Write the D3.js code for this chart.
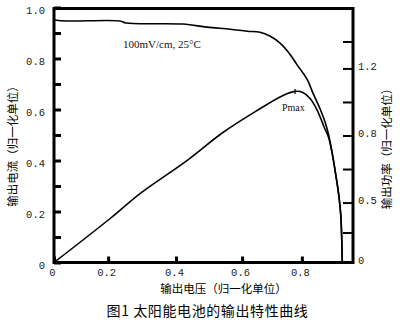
<!DOCTYPE html>
<html>
<head>
<meta charset="utf-8">
<script src="https://cdn.jsdelivr.net/npm/d3@7"></script>
<style>
  html, body { margin: 0; padding: 0; background: #fff; }
  svg { display: block; }
</style>
</head>
<body>
<svg id="chart" width="403" height="327"></svg>
<script>
// Output voltage tick values (normalized)
const voltageTicks = [0, 0.2, 0.4, 0.6, 0.8];
// Output current ticks (left axis) and which of them carry a label
const currentTicks = [0, 0.1, 0.2, 0.3, 0.4, 0.5, 0.6, 0.7, 0.8, 0.9, 1.0];
const currentLabels = [0, 0.2, 0.4, 0.6, 0.8, 1.0];
// Output power ticks (right axis) and the labelled subset
const powerTicks = [0, 0.25, 0.5, 0.65, 0.8, 1.0, 1.2, 1.4];
const powerLabels = [0, 0.5, 0.8, 1.2];

// I–V curve: voltage / current pairs
const ivVoltage = [0, 0.048, 0.235, 0.253, 0.421, 0.494, 0.564, 0.617, 0.66, 0.693, 0.727, 0.76, 0.783, 0.816, 0.834, 0.856, 0.871, 0.881, 0.893, 0.903, 0.912, 0.918, 0.921, 0.9225];
const ivCurrent = [0.951, 0.947, 0.947, 0.939, 0.935, 0.923, 0.915, 0.907, 0.903, 0.888, 0.86, 0.817, 0.777, 0.718, 0.663, 0.6, 0.548, 0.501, 0.422, 0.343, 0.264, 0.185, 0.087, 0];

// P–V curve: voltage / power pairs
const pvVoltage = [0, 0.206, 0.294, 0.433, 0.542, 0.65, 0.737, 0.777, 0.803, 0.825, 0.847, 0.856, 0.868, 0.881, 0.893, 0.903, 0.912, 0.918, 0.921, 0.9225];
const pvPower = [0, 0.367, 0.54, 0.688, 0.818, 0.949, 1.039, 1.063, 1.057, 1.021, 0.949, 0.907, 0.848, 0.791, 0.71, 0.621, 0.531, 0.392, 0.183, 0];

const condition = "100mV/cm, 25°C";
const peakLabel = "Pmax";
const xTitle = "输出电压（归一化单位）";
const yLeftTitle = "输出电流（归一化单位）";
const yRightTitle = "输出功率（归一化单位）";
const caption = "图1 太阳能电池的输出特性曲线";

const svg = d3.select("#chart");
const W = 403, H = 327;
const plot = { left: 54, right: 353, top: 8.5, bottom: 262.5 };

svg.append("rect").attr("width", W).attr("height", H).attr("fill", "#fff");

// The hand-drawn voltage axis is not evenly spaced, so each labelled
// division gets its own stretch of the plot width.
const xFrac = [0, 0.181, 0.408, 0.629, 0.829, 1];
const x = d3.scaleLinear()
  .domain([0, 0.2, 0.4, 0.6, 0.8, 0.955])
  .range(xFrac.map(f => plot.left + f * (plot.right - plot.left)));

const yLeft = d3.scaleLinear().domain([0, 1]).range([plot.bottom, 7.5]);

// Right power axis, also unevenly divided
const yFrac = [0, 0.236, 0.5, 0.764, 0.87];
const yRight = d3.scaleLinear()
  .domain([0, 0.5, 0.8, 1.2, 1.4])
  .range(yFrac.map(f => plot.bottom - f * (plot.bottom - plot.top)));

const monoFont = "'Liberation Mono', 'DejaVu Sans Mono', monospace";
const cjkFont = "'Noto Sans CJK SC', 'Noto Sans', sans-serif";
const serifFont = "'Liberation Serif', 'DejaVu Serif', serif";

function styleAxis(g, width) {
  g.select(".domain").remove();
  g.selectAll(".tick line").attr("stroke", "#000").attr("stroke-width", width);
  g.selectAll(".tick text")
    .attr("fill", "#222")
    .attr("font-family", monoFont)
    .attr("font-size", 10.5);
}

// Left axis: current
svg.append("g")
  .attr("transform", `translate(${plot.left},0)`)
  .call(d3.axisLeft(yLeft)
    .tickValues(currentTicks)
    .tickSize(-7)
    .tickPadding(9)
    .tickFormat(d => currentLabels.some(v => Math.abs(v - d) < 1e-9) ? (d === 0 ? "0" : d3.format(".1f")(d)) : ""))
  .call(g => styleAxis(g, 3))
  .call(g => g.selectAll(".tick text").attr("dy", "0.55em"));

// Bottom axis: voltage
svg.append("g")
  .attr("transform", `translate(0,${plot.bottom})`)
  .call(d3.axisBottom(x)
    .tickValues(voltageTicks)
    .tickSize(-6)
    .tickPadding(6)
    .tickFormat(d => d === 0 ? "0" : d3.format(".1f")(d)))
  .call(g => styleAxis(g, 3))
  .call(g => g.selectAll(".tick text").attr("dx", "-2"));

// Right axis: power
svg.append("g")
  .attr("transform", `translate(${plot.right},0)`)
  .call(d3.axisRight(yRight)
    .tickValues(powerTicks)
    .tickSize(-10)
    .tickPadding(5)
    .tickFormat(d => powerLabels.some(v => Math.abs(v - d) < 1e-9) ? (d === 0 ? "0" : d3.format(".1f")(d)) : ""))
  .call(g => styleAxis(g, 2))
  .call(g => g.selectAll(".tick text").attr("dy", "0.1em"));

// Frame
svg.append("rect")
  .attr("x", plot.left).attr("y", plot.top)
  .attr("width", plot.right - plot.left).attr("height", plot.bottom - plot.top)
  .attr("fill", "none").attr("stroke", "#000").attr("stroke-width", 3);

// Curves
const ivLine = d3.line()
  .x((d, i) => x(ivVoltage[i]))
  .y((d, i) => yLeft(ivCurrent[i]))
  .curve(d3.curveCatmullRom.alpha(0.5));

const pvLine = d3.line()
  .x((d, i) => x(pvVoltage[i]))
  .y((d, i) => yRight(pvPower[i]))
  .curve(d3.curveCatmullRom.alpha(0.5));

svg.append("path")
  .attr("d", ivLine(ivVoltage))
  .attr("fill", "none").attr("stroke", "#000").attr("stroke-width", 1.6);

svg.append("path")
  .attr("d", pvLine(pvVoltage))
  .attr("fill", "none").attr("stroke", "#000").attr("stroke-width", 1.6);

// Maximum power point marker
const iMax = d3.maxIndex(pvPower);
const px = x(pvVoltage[iMax]), py = yRight(pvPower[iMax]);
svg.append("line")
  .attr("x1", px).attr("x2", px).attr("y1", py - 2.5).attr("y2", py + 2.5)
  .attr("stroke", "#000").attr("stroke-width", 1.2);

// Annotations
svg.append("text")
  .attr("x", 123).attr("y", 48)
  .attr("font-family", serifFont).attr("font-size", 11)
  .attr("fill", "#111")
  .text(condition);

svg.append("text")
  .attr("x", px - 13).attr("y", py + 20)
  .attr("font-family", serifFont).attr("font-size", 10)
  .attr("fill", "#111")
  .text(peakLabel);

// Axis titles
svg.append("text")
  .attr("x", 223.5).attr("y", 293)
  .attr("text-anchor", "middle")
  .attr("font-family", cjkFont).attr("font-size", 11.5)
  .attr("fill", "#000")
  .text(xTitle);

svg.append("text")
  .attr("transform", "translate(17,143.5) rotate(-90)")
  .attr("text-anchor", "middle")
  .attr("font-family", cjkFont).attr("font-size", 11.5)
  .attr("fill", "#000")
  .text(yLeftTitle);

svg.append("text")
  .attr("transform", "translate(391,146) rotate(-90)")
  .attr("text-anchor", "middle")
  .attr("font-family", cjkFont).attr("font-size", 11.5)
  .attr("fill", "#000")
  .text(yRightTitle);

// Caption
svg.append("text")
  .attr("x", 207.5).attr("y", 316)
  .attr("text-anchor", "middle")
  .attr("font-family", cjkFont).attr("font-size", 14)
  .attr("letter-spacing", 0.6)
  .attr("fill", "#000")
  .text(caption);
</script>
</body>
</html>
